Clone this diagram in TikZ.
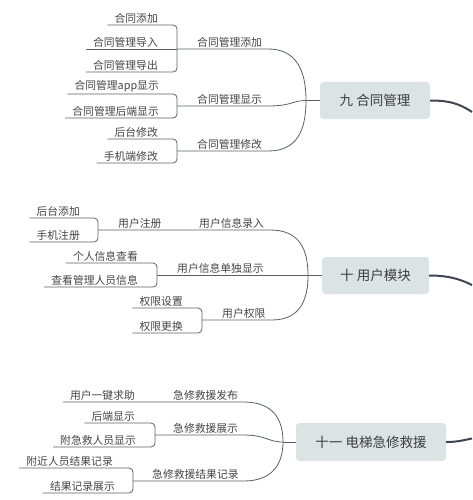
\documentclass[tikz,border=0pt]{standalone}
\usepackage{fontspec}
\setmainfont{Noto Sans CJK SC}
\usetikzlibrary{calc}
\definecolor{lnc}{HTML}{5A6068}
\definecolor{txc}{HTML}{444444}
\definecolor{boxc}{HTML}{DCE3E5}
\definecolor{thk}{HTML}{3E4550}
\begin{document}
\begin{tikzpicture}[x=1pt,y=-1pt,
  leaf/.style={inner sep=0pt, anchor=south east, text=txc, font=\fontsize{10.8}{12}\selectfont},
  brl/.style={inner sep=0pt, anchor=south west, text=txc, font=\fontsize{10.8}{12}\selectfont},
  rootbox/.style={fill=boxc, rounded corners=3.5pt, text=txc!90!black, inner sep=0pt, font=\fontsize{13.5}{15}\selectfont},
  ln/.style={draw=lnc, line width=0.8pt},
  thick line/.style={draw=thk, line width=2pt}]
\useasboundingbox (0,0) rectangle (472,500);

% ---------- Section 1 ----------
\node[rootbox, minimum width=110pt, minimum height=37pt] (R1) at (375,100.5) {九 合同管理};
\coordinate (F1) at (306,100.5);
\coordinate (E1) at (472,112);
\draw[ln] (F1) -- (R1.west);
\draw[thick line] (R1.east) .. controls (450,100.5) and (460,104) .. (E1);

\node[leaf] (a1) at (158,23.5) {合同添加};
\node[leaf] (a2) at (158,47.5) {合同管理导入};
\node[leaf] (a3) at (158,70.5) {合同管理导出};
\node[brl] (A) at (197,47.5) {合同管理添加};
\coordinate (bA) at (177,49);
\draw[ln, rounded corners=4pt] ($(a1.south west)+(-7,1.5)$) -| (bA) |- ($(a3.south west)+(-7,1.5)$);
\draw[ln] ($(a2.south west)+(-7,1.5)$) -- (bA);
\draw[ln] (bA) -- ($(A.south east)+(6,1.5)$) .. controls (296,49) and (306,70) .. (F1);

\node[leaf] (b1) at (159,92.5) {合同管理app显示};
\node[leaf] (b2) at (159,116.5) {合同管理后端显示};
\node[brl] (B) at (197,104.5) {合同管理显示};
\coordinate (bB) at (177,106);
\draw[ln, rounded corners=4pt] ($(b1.south west)+(-7,1.5)$) -| (bB) |- ($(b2.south west)+(-7,1.5)$);
\draw[ln] (bB) -- ($(B.south east)+(6,1.5)$) .. controls (292,106) and (292,100.5) .. (F1);

\node[leaf] (c1) at (158,137.5) {后台修改};
\node[leaf] (c2) at (158,161.5) {手机端修改};
\node[brl] (C) at (197,149.5) {合同管理修改};
\coordinate (bC) at (177,151);
\draw[ln, rounded corners=4pt] ($(c1.south west)+(-7,1.5)$) -| (bC) |- ($(c2.south west)+(-7,1.5)$);
\draw[ln] (bC) -- ($(C.south east)+(6,1.5)$) .. controls (296,151) and (306,132) .. (F1);

% ---------- Section 2 ----------
\node[rootbox, minimum width=107pt, minimum height=37pt] (R2) at (375.5,275.5) {十 用户模块};
\coordinate (F2) at (308,275.5);
\coordinate (E2) at (472,285);
\draw[ln] (F2) -- (R2.west);
\draw[thick line] (R2.east) .. controls (448,275.5) and (460,279) .. (E2);

\node[leaf] (d1) at (80,216.5) {后台添加};
\node[leaf] (d2) at (80,240.5) {手机注册};
\node[brl] (D0) at (118,228.5) {用户注册};
\node[brl] (D) at (199,228.5) {用户信息录入};
\coordinate (bD) at (98,230);
\draw[ln, rounded corners=4pt] ($(d1.south west)+(-7,1.5)$) -| (bD) |- ($(d2.south west)+(-7,1.5)$);
\draw[ln] (bD) -- ($(D.south east)+(6,1.5)$) .. controls (300,230) and (308,250) .. (F2);

\node[leaf] (e1) at (138,261.5) {个人信息查看};
\node[leaf] (e2) at (138,285.5) {查看管理人员信息};
\node[brl] (E) at (177,274) {用户信息单独显示};
\coordinate (bE) at (157,275.5);
\draw[ln, rounded corners=4pt] ($(e1.south west)+(-7,1.5)$) -| (bE) |- ($(e2.south west)+(-7,1.5)$);
\draw[ln] (bE) -- (F2);

\node[leaf] (f1) at (183,306.5) {权限设置};
\node[leaf] (f2) at (183,331.5) {权限更换};
\node[brl] (G) at (222,318.5) {用户权限};
\coordinate (bG) at (202,320);
\draw[ln, rounded corners=4pt] ($(f1.south west)+(-7,1.5)$) -| (bG) |- ($(f2.south west)+(-7,1.5)$);
\draw[ln] (bG) -- ($(G.south east)+(6,1.5)$) .. controls (300,320) and (308,300) .. (F2);

% ---------- Section 3 ----------
\node[rootbox, minimum width=150pt, minimum height=38pt] (R3) at (371,442) {十一 电梯急修救援};
\coordinate (F3) at (283,442);
\coordinate (E3) at (472,438.5);
\draw[ln] (F3) -- (R3.west);
\draw[thick line] (R3.east) .. controls (458,442) and (464,440) .. (E3);

\node[leaf] (g1) at (135,400.5) {用户一键求助};
\node[brl] (H) at (173,400.5) {急修救援发布};
\draw[ln] ($(g1.south west)+(-7,1.5)$) -- ($(H.south east)+(5,1.5)$) .. controls (274,402) and (283,420) .. (F3);

\node[leaf] (h1) at (135,421.5) {后端显示};
\node[leaf] (h2) at (136,445.5) {附急救人员显示};
\node[brl] (K) at (173,433.5) {急修救援展示};
\coordinate (bK) at (155,435);
\draw[ln, rounded corners=4pt] ($(h1.south west)+(-7,1.5)$) -| (bK) |- ($(h2.south west)+(-7,1.5)$);
\draw[ln] (bK) -- ($(K.south east)+(5,1.5)$) .. controls (266,435) and (268,442) .. (F3);

\node[leaf] (i1) at (113,466.5) {附近人员结果记录};
\node[leaf] (i2) at (115,491.5) {结果记录展示};
\node[brl] (L) at (152,479.5) {急修救援结果记录};
\coordinate (bL) at (133,481);
\draw[ln, rounded corners=4pt] ($(i1.south west)+(-7,1.5)$) -| (bL) |- ($(i2.south west)+(-7,1.5)$);
\draw[ln] (bL) -- ($(L.south east)+(5,1.5)$) .. controls (274,481) and (283,462) .. (F3);
\end{tikzpicture}
\end{document}
